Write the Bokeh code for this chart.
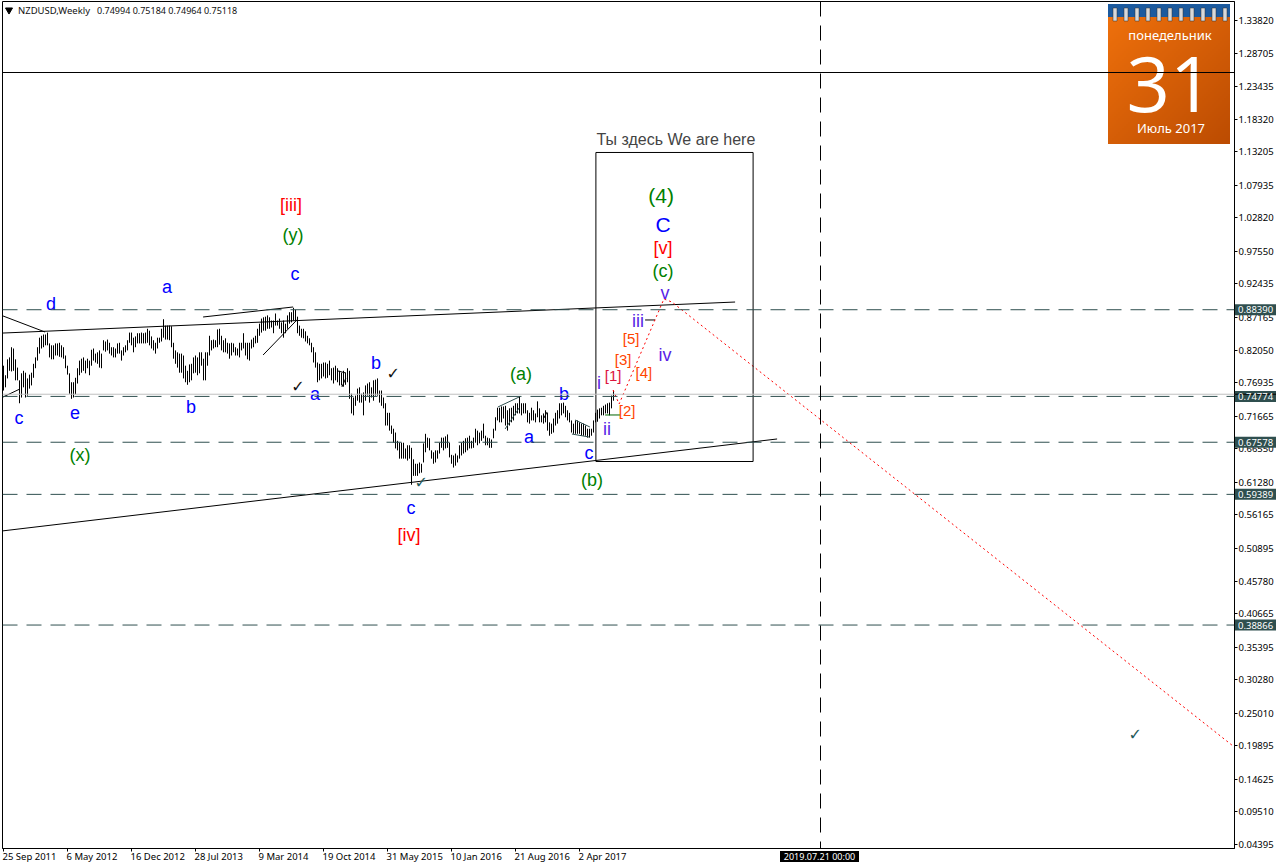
import numpy as np
from bokeh.plotting import figure
from bokeh.models import FixedTicker, NumeralTickFormatter, Range1d, Span
from bokeh.core.properties import value
from bokeh.embed import file_html
from bokeh.resources import INLINE

# Weekly bars of NZDUSD, one per week starting at 25 Sep 2011
highs = [
 .796,.781,.806,.809,.825,.823,.806,.793,.773,.784,
 .788,.785,.776,.782,.785,.799,.809,.825,.840,.843,
 .845,.845,.848,.831,.828,.828,.831,.831,.832,.828,
 .825,.812,.796,.784,.770,.770,.777,.792,.804,.807,
 .809,.804,.807,.804,.821,.823,.815,.817,.820,.815,
 .836,.834,.837,.832,.825,.825,.823,.831,.832,.820,
 .825,.828,.836,.848,.848,.840,.842,.847,.847,.848,
 .847,.848,.854,.851,.842,.836,.832,.840,.840,.854,
 .869,.859,.859,.859,.858,.832,.820,.817,.815,.815,
 .812,.796,.788,.798,.799,.809,.812,.809,.817,.817,
 .807,.817,.817,.843,.836,.837,.836,.853,.854,.843,
 .836,.839,.832,.831,.832,.831,.825,.823,.832,.832,
 .847,.832,.832,.832,.837,.840,.843,.854,.862,.870,
 .872,.873,.875,.872,.867,.867,.878,.867,.870,.864,
 .867,.862,.875,.880,.880,.887,.884,.873,.859,.854,
 .854,.850,.843,.839,.832,.825,.817,.801,.799,.799,
 .801,.801,.799,.804,.792,.793,.796,.792,.788,.785,
 .788,.785,.792,.788,.752,.746,.749,.760,.762,.752,
 .754,.765,.768,.770,.762,.773,.774,.776,.757,.757,
 .746,.737,.722,.722,.702,.697,.691,.678,.675,.675,
 .675,.666,.671,.671,.667,.649,.642,.642,.644,.642,
 .674,.689,.683,.682,.663,.660,.663,.663,.675,.683,
 .683,.685,.688,.675,.656,.655,.658,.655,.671,.675,
 .678,.682,.683,.686,.678,.683,.697,.694,.691,.694,
 .705,.686,.683,.682,.680,.697,.715,.730,.730,.732,
 .732,.733,.726,.729,.730,.733,.737,.737,.748,.737,
 .737,.737,.726,.722,.730,.726,.721,.740,.729,.718,
 .721,.726,.722,.707,.705,.713,.722,.726,.737,.737,
 .738,.733,.726,.722,.710,.705,.710,.710,.707,.705,
 .705,.702,.697,.697,.697,.710,.722,.727,.729,.730,
 .733,.735,.737,.738,.749,.757,
]
lows = [
 .757,.762,.776,.788,.787,.788,.773,.773,.737,.746,
 .762,.746,.749,.760,.765,.777,.792,.804,.815,.823,
 .825,.828,.828,.809,.806,.806,.812,.812,.810,.809,
 .807,.792,.782,.752,.744,.746,.751,.768,.781,.785,
 .788,.784,.792,.781,.796,.804,.801,.799,.793,.792,
 .820,.818,.820,.815,.812,.809,.809,.815,.815,.804,
 .812,.817,.820,.832,.828,.817,.825,.831,.831,.831,
 .831,.831,.832,.828,.823,.820,.815,.823,.832,.834,
 .840,.837,.837,.836,.825,.807,.799,.793,.785,.785,
 .776,.770,.766,.770,.773,.784,.785,.781,.784,.796,
 .773,.773,.796,.812,.820,.823,.825,.825,.829,.820,
 .817,.817,.815,.807,.812,.817,.812,.812,.809,.820,
 .823,.812,.806,.804,.823,.825,.831,.832,.843,.848,
 .851,.851,.854,.854,.856,.847,.859,.859,.854,.847,
 .840,.847,.854,.862,.864,.867,.867,.847,.843,.840,
 .839,.834,.831,.828,.817,.801,.793,.770,.773,.776,
 .779,.776,.777,.781,.773,.768,.773,.770,.765,.765,
 .763,.766,.770,.744,.721,.718,.733,.741,.738,.738,
 .718,.741,.749,.738,.746,.741,.749,.749,.738,.733,
 .729,.702,.702,.694,.689,.675,.666,.663,.650,.650,
 .650,.650,.647,.650,.609,.623,.623,.623,.627,.628,
 .644,.660,.667,.663,.650,.642,.644,.650,.658,.667,
 .663,.666,.667,.652,.642,.636,.639,.644,.650,.655,
 .658,.660,.663,.666,.666,.667,.675,.671,.674,.678,
 .682,.671,.671,.667,.667,.682,.694,.710,.707,.707,
 .713,.702,.694,.702,.707,.710,.718,.721,.721,.718,
 .721,.721,.707,.705,.710,.710,.707,.715,.707,.707,
 .705,.707,.694,.686,.689,.691,.702,.705,.713,.718,
 .721,.715,.710,.707,.691,.689,.689,.689,.689,.686,
 .686,.686,.683,.683,.686,.691,.707,.708,.713,.718,
 .718,.721,.721,.718,.729,.741,
]
assert len(highs) == len(lows) == 306
weeks = list(range(len(highs)))

price_ticks = [1.33820,1.28705,1.23435,1.18320,1.13205,1.07935,1.02820,0.97550,0.92435,
               0.87165,0.82050,0.76935,0.71665,0.66550,0.61280,0.56165,0.50895,0.45780,
               0.40665,0.35395,0.30280,0.25010,0.19895,0.14625,0.09510,0.04395]
date_ticks = [0,32,64,96,128,160,192,224,256,288]
date_labels = ["25 Sep 2011","6 May 2012","16 Dec 2012","28 Jul 2013","9 Mar 2014",
               "19 Oct 2014","31 May 2015","10 Jan 2016","21 Aug 2016","2 Apr 2017"]
levels = [0.88390,0.74774,0.67578,0.59389,0.38866]
level_labels = ["0.88390","0.74774","0.67578","0.59389","0.38866"]
bid = 0.75118
top_line = 1.2565
cursor_week = 408.5

blue_t = ["d","a","c","c","e","b","a","b","c","a","b","c"]
blue_w = [23.8,81.8,145.8,7.8,35.8,93.8,155.8,186.2,203.8,262.8,280.2,292.8]
blue_p = [.893,.920,.940,.714,.722,.731,.752,.800,.572,.684,.752,.659]
green_t = ["(x)","(y)","(a)","(b)","(c)"]
green_w = [38.2,144.8,258.8,294.2,329.8]
green_p = [.656,1.001,.783,.616,.945]
red_t = ["[iii]","[iv]","[v]"]
red_w = [143.8,202.8,329.8]
red_p = [1.048,.530,.981]
violet_t = ["i","ii","iii","iv","v"]
violet_w = [297.8,301.8,317.2,330.8,330.8]
violet_p = [.769,.697,.866,.813,.910]
orange_t = ["[2]","[3]","[4]","[5]"]
orange_w = [311.8,309.8,320.2,313.8]
orange_p = [.726,.805,.785,.838]

# trend lines: week0, price0, week1, price1
trends = [(-.75,.5364,386.8,.6809),(-.25,.8473,365.8,.8960),(-.25,.8741,20.8,.8489),
          (99.8,.8725,144.8,.8882),(129.8,.8128,147.2,.8694),(-.25,.7468,8.2,.7594),
          (167.2,.7877,171.2,.7845),(169.2,.7625,171.2,.7767),(270.2,.7138,271.8,.7233),
          (320.8,.8678,325.8,.8678)]
slate_trends = [(247.2,.7311,257.8,.7468),(250.8,.6966,257.8,.7296),
                (284.2,.6887,292.8,.6840),(285.8,.7107,293.2,.6997)]
path_w = [304.8,307.8,330.2,334.2,614.8]
path_p = [.7578,.7358,.9008,.8960,.1986]
box_w = [296.2,374.8]
box_p = [.6455,1.1309]

K = 0.0015707
def wk(px):
    return (px - 3.5) / 2
def pr(c):
    return 1.3382 - (c - 20.5) * K

p = figure(width=1276, height=868, output_backend="svg", toolbar_location=None,
           x_range=Range1d(wk(2.5), wk(1234.5)), y_range=Range1d(pr(848.5), pr(1.5)),
           y_axis_location="right", min_border_left=2, min_border_right=42,
           min_border_top=1, min_border_bottom=20, background_fill_color="white",
           outline_line_color="black", outline_line_width=1)
p.styles = {"position": "absolute", "left": "0px", "top": "0px"}
p.grid.visible = False
FONT = "Noto Sans"
ax = p.yaxis[0]
ax.ticker = FixedTicker(ticks=price_ticks)
ax.formatter = NumeralTickFormatter(format="0.00000")
ax.major_tick_in = 0; ax.major_tick_out = 3; ax.minor_tick_out = 0; ax.minor_tick_in = 0
ax.major_label_standoff = 1
ax.major_label_text_font = FONT
ax.major_label_text_font_size = "9.5px"
ax.major_label_text_color = "black"
ax.axis_line_color = "black"
ax.major_tick_line_color = "black"
bx = p.xaxis[0]
bx.ticker = FixedTicker(ticks=date_ticks)
bx.major_label_overrides = {t: " " for t in date_ticks}
bx.major_tick_in = 0; bx.major_tick_out = 3; bx.minor_tick_out = 0; bx.minor_tick_in = 0
bx.major_label_standoff = 1
bx.major_label_text_font_size = "9.5px"

SLATE = "#2f4f4f"
# levels
for lv in levels:
    p.add_layout(Span(location=lv, dimension="width", line_color=SLATE, line_width=1, line_dash="15 9"))
p.add_layout(Span(location=bid, dimension="width", line_color="#c0c0c0", line_width=1))
p.add_layout(Span(location=top_line, dimension="width", line_color="black", line_width=1))
p.add_layout(Span(location=cursor_week, dimension="height", line_color="black", line_width=1, line_dash="15 9"))

# bars
p.segment(weeks, highs, weeks, lows, line_color="black", line_width=1)

# trend objects
def draw_trends(items, color):
    p.segment([t[0] for t in items], [t[1] for t in items], [t[2] for t in items], [t[3] for t in items],
              line_color=color, line_width=1)
draw_trends(trends, "black")
draw_trends(slate_trends, SLATE)
p.segment([300.8],[.7186],[308.2],[.7186], line_color="#006400", line_width=1)
p.line(path_w, path_p, line_color="red", line_width=1, line_dash="2 3")
p.quad(left=box_w[0], right=box_w[1], bottom=box_p[0], top=box_p[1],
       fill_alpha=0, line_color="black", line_width=1)

# wave labels
def labels(t, w, pv, color, size):
    p.text(w, pv, text=t, text_color=color, text_font=value("Liberation Sans"),
           text_font_size=size, text_align="center", text_baseline="middle")
labels(blue_t, blue_w, blue_p, "#0000ff", "18px")
labels(green_t, green_w, green_p, "#008000", "18px")
labels(red_t, red_w, red_p, "#ff0000", "18px")
labels(violet_t, violet_w, violet_p, "#5a1ee6", "18px")
labels(orange_t, orange_w, orange_p, "#ff4500", "15px")
labels(["[1]"], [304.8], [.780], "#dc143c", "15px")
labels(["(4)"], [328.8], [1.064], "#008000", "21px")
labels(["C"], [329.8], [1.017], "#0000ff", "21px")
labels(["Ты здесь We are here"], [336.2], [1.152], "#444444", "16px")

# check marks
p.text([147.2,194.8], [.7641,.7845], text=["✓","✓"], text_color="#111111",
       text_font=value("DejaVu Sans"), text_font_size="16px", text_align="center", text_baseline="middle")
p.text([208.8,565.8], [.6118,.2175], text=["✓","✓"], text_color="#1f5a5a",
       text_font=value("DejaVu Sans"), text_font_size="16px", text_align="center", text_baseline="middle")

# header
p.scatter([wk(9)], [pr(10)], marker="inverted_triangle", size=7, fill_color="black", line_color="black")
p.text([wk(18)], [pr(10.5)], text=["NZDUSD,Weekly"], text_color="#111111",
       text_font=value(FONT), text_font_size="9.5px", text_align="left", text_baseline="middle")
p.text([wk(97)], [pr(10.5)], text=["0.74994 0.75184 0.74964 0.75118"], text_color="#111111",
       text_font=value(FONT), text_font_size="9px", text_align="left", text_baseline="middle")

# calendar widget
h, w = 63, 61
yy, xx = np.mgrid[0:h, 0:w]
t = (xx / (w - 1) + (h - 1 - yy) / (h - 1)) / 2
img = np.zeros((h, w), dtype=np.uint32)
view = img.view(dtype=np.uint8).reshape((h, w, 4))
view[..., 0] = (238 - 50 * t).astype(np.uint8)
view[..., 1] = (112 - 36 * t).astype(np.uint8)
view[..., 2] = (12 - 10 * t).astype(np.uint8)
view[..., 3] = 255
p.image_rgba(image=[img], x=wk(1108), y=pr(144), dw=61, dh=127 * K)
p.quad(left=[wk(1108)], right=[wk(1230)], bottom=[pr(17)], top=[pr(4)], fill_color="#1c5a9e", line_color=None)
rings = [1113 + 11 * i for i in range(11)]
p.quad(left=[wk(x) for x in rings], right=[wk(x + 4) for x in rings], bottom=[pr(21)] * 11, top=[pr(8)] * 11,
       fill_color="#d8d8d8", line_color="#333333", line_width=0.5)
p.text([wk(1170)], [pr(35)], text=["понедельник"], text_color="white", text_font=value(FONT),
       text_font_size="13px", text_align="center", text_baseline="middle")
p.text([wk(1170)], [pr(84)], text=["31"], text_color="white", text_font=value("Open Sans"),
       text_font_size="76px", text_align="center", text_baseline="middle")
p.text([wk(1171)], [pr(128)], text=["Июль 2017"], text_color="white", text_font=value(FONT),
       text_font_size="13px", text_align="center", text_baseline="middle")

# transparent sheet over the whole page, on the same scales: it carries the date labels
# and the tags that lie on the axes, where the chart itself would clip them
ov = figure(width=1276, height=868, output_backend="svg", toolbar_location=None,
            x_range=Range1d(wk(0.5), wk(1276.5)), y_range=Range1d(pr(868.5), pr(0.5)),
            x_axis_type=None, y_axis_type=None, min_border=0,
            background_fill_color=None, border_fill_color=None, outline_line_color=None)
ov.styles = {"position": "absolute", "left": "0px", "top": "0px", "pointer-events": "none"}
ov.grid.visible = False
ov.text([tk - 0.5 for tk in date_ticks], [pr(856.5)] * len(date_ticks), text=date_labels, text_color="black",
        text_font=value(FONT), text_font_size="9.5px", text_align="left", text_baseline="middle")
ov.quad(left=[wk(1235)] * 5, right=[wk(1276)] * 5, bottom=[lv - 5.5 * K for lv in levels],
        top=[lv + 5.5 * K for lv in levels], fill_color=SLATE, line_color=None)
ov.segment([wk(1235)], [bid], [wk(1276)], [bid], line_color="black", line_width=1)
ov.text([wk(1238)] * 5, levels, text=level_labels, text_color="white", text_font=value(FONT),
        text_font_size="9.5px", text_align="left", text_baseline="middle")
ov.quad(left=[wk(780)], right=[wk(859)], bottom=[pr(862)], top=[pr(851)], fill_color="black", line_color=None)
ov.text([wk(819.5)], [pr(856.5)], text=["2019.07.21 00:00"], text_color="white", text_font=value(FONT),
        text_font_size="9px", text_align="center", text_baseline="middle")

open("out.html", "w").write(file_html([p, ov], INLINE))
